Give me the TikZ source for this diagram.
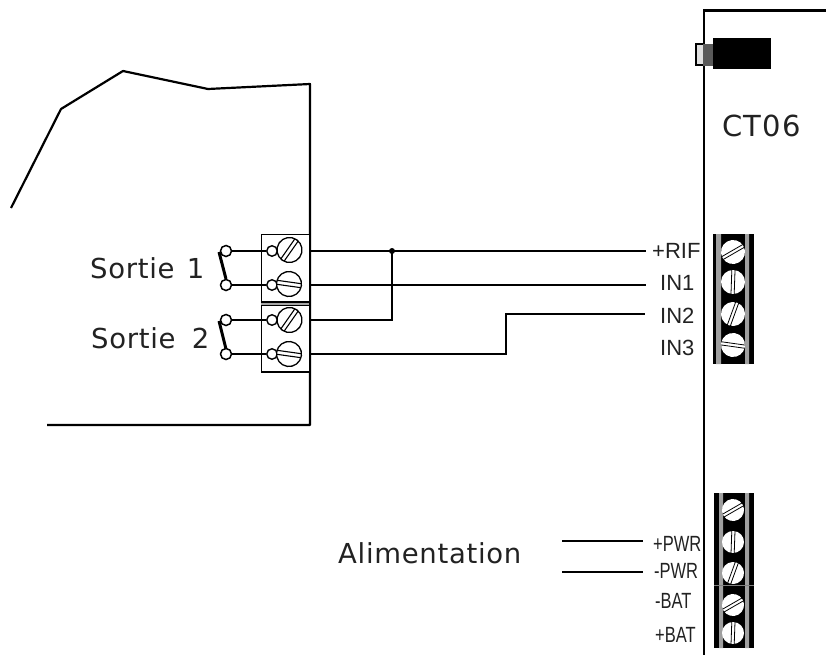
\documentclass[tikz,border=0pt]{standalone}
\usepackage{fontspec}
\setmainfont{DejaVu Sans}
\newfontfamily\arialf{Liberation Sans}
\newfontfamily\labelf[LetterSpace=2.5]{DejaVu Sans}
\newfontfamily\ctf[LetterSpace=4.5]{DejaVu Sans}
\usetikzlibrary{calc}
\definecolor{inkc}{HTML}{222222}
\newcommand{\bigscrew}[4]{% x y radius angle
  \begin{scope}[shift={(#1,#2)},rotate=#4]
    \fill[white] (0,0) circle[radius=#3];
    \draw[black,line width=0.8pt] (-#3,-1.6) -- (#3,-1.6) (-#3,1.6) -- (#3,1.6);
  \end{scope}}
\newcommand{\termscrew}[3]{% x y angle
  \begin{scope}[shift={(#1,#2)},rotate=#3]
    \draw[line width=1.3pt,fill=white] (0,0) circle[radius=12.5];
    \draw[line width=1.1pt] (-12.5,-2) -- (12.5,-2) (-12.5,2) -- (12.5,2);
  \end{scope}}
\tikzset{
  wire/.style={line width=1.5pt,black},
  outline/.style={line width=2.2pt,black},
  contact/.style={circle,draw,line width=1.5pt,fill=white,minimum size=11pt,inner sep=0pt},
  hole/.style={circle,draw,line width=1.4pt,fill=white,minimum size=10.5pt,inner sep=0pt},
  biglabel/.style={font=\labelf\fontsize{27.5}{30}\selectfont,text=inkc,inner sep=0pt,anchor=base west},
  ctlabel/.style={font=\ctf\fontsize{29}{32}\selectfont,text=inkc,inner sep=0pt,anchor=base west},
  pinlabel/.style={font=\arialf\fontsize{22}{24}\selectfont,text=inkc,inner sep=0pt,anchor=base west},
  pinnarrow/.style={font=\arialf\fontsize{22}{24}\selectfont,text=inkc,inner sep=0pt,anchor=base west,xscale=0.75,transform shape},
}
\begin{document}
\begin{tikzpicture}[x=1pt,y=-1pt]
\useasboundingbox (0,0) rectangle (826,655);
% device outline
\draw[outline,line join=round] (11,208) -- (61,109) -- (123,71) -- (208,89) -- (310,84) -- (310,425) -- (47,425);
% terminal boxes
\draw[line width=1.2pt,fill=white] (261.5,234.5) rectangle (310,302);
\draw[line width=1.2pt,fill=white] (261.5,305) rectangle (310,372);
\fill[gray!70] (261,302.5) rectangle (310,305);
\draw[outline] (310,232) -- (310,374);
% labels
\node[biglabel] (s1) at (90,278) {Sortie\kern3pt{} 1};
\node[biglabel] (s2) at (91,348) {Sortie\kern7pt{} 2};
\node[biglabel] (al) at (338,563) {Alimentation};
\node[ctlabel] (ct) at (722,137) {CT06};
% terminal holes
\node[hole] (h1) at (272,251) {};
\node[hole] (h2) at (272,285) {};
\node[hole] (h3) at (272,320) {};
\node[hole] (h4) at (272,354) {};
\termscrew{289.5}{250}{55}
\termscrew{289}{284}{-8}
\termscrew{289.5}{320}{55}
\termscrew{289}{354}{-8}
% contacts
\node[contact] (c1) at (226,251) {};
\node[contact] (c2) at (226,285) {};
\node[contact] (c3) at (226,320) {};
\node[contact] (c4) at (226,354) {};
\draw[wire] (c1) -- (h1);
\draw[wire] (c2) -- (h2);
\draw[wire] (c3) -- (h3);
\draw[wire] (c4) -- (h4);
\draw[line width=3pt] (219,252) -- (226,279);
\draw[line width=3pt] (219,321) -- (226,349);
% pin labels
\node[pinlabel] (rif) at (652,258) {+RIF};
\node[pinlabel] (in1) at (660,290) {IN1};
\node[pinlabel] (in2) at (660,323) {IN2};
\node[pinlabel] (in3) at (660,355) {IN3};
\node[pinnarrow] (pwrp) at (653,551) {+PWR};
\node[pinnarrow] (pwrm) at (654,578) {-PWR};
\node[pinnarrow] (batm) at (655,608) {-BAT};
\node[pinnarrow] (batp) at (655,642) {+BAT};
% wires
\coordinate (t1) at (310,251);
\coordinate (t2) at (310,285);
\coordinate (t3) at (310,320);
\coordinate (t4) at (310,354);
\coordinate (e1) at (646,251);
\coordinate (e2) at (646,285);
\coordinate (e3) at (645,314);
\coordinate (j) at (392,251);
\draw[wire] (t1) -- (e1);
\draw[wire] (t2) -- (e2);
\draw[wire] (t3) -| (j);
\draw[wire] (t4) -- (506,354) -- (506,314) -- (e3);
\fill (j) circle[radius=3];
\coordinate (a1) at (562,541); \coordinate (a1e) at (643,541);
\coordinate (a2) at (562,572); \coordinate (a2e) at (643,572);
\draw[wire] (a1) -- (a1e);
\draw[wire] (a2) -- (a2e);
% panel
\draw[outline] (826,10.5) -- (704,10.5) -- (704,655);
% connector
\draw[line width=1.2pt,fill=gray!25] (696,44) rectangle (704,65);
\fill[black!65] (703,44) rectangle (713,66);
\fill[black] (713,38) rectangle (771,69);
% strip 1
\fill[black] (713,234) rectangle (754,364);
\fill[gray!75] (716,234) rectangle (721,364) (745,234) rectangle (749,364);
\bigscrew{733}{252}{12}{30}
\bigscrew{733}{282}{12}{88}
\bigscrew{733}{314}{12}{70}
\bigscrew{733}{345}{12}{-8}
% strip 2
\fill[black] (714,493) rectangle (754,648);
\fill[gray!75] (719,493) rectangle (723,648) (745,493) rectangle (749,648);
\bigscrew{733}{510}{11}{30}
\bigscrew{733}{542}{11}{88}
\bigscrew{733}{573}{11}{70}
\bigscrew{733}{605}{11}{30}
\bigscrew{733}{633}{11}{88}
\draw[gray,line width=0.5pt] (714,585) -- (754,585);
\end{tikzpicture}
\end{document}
